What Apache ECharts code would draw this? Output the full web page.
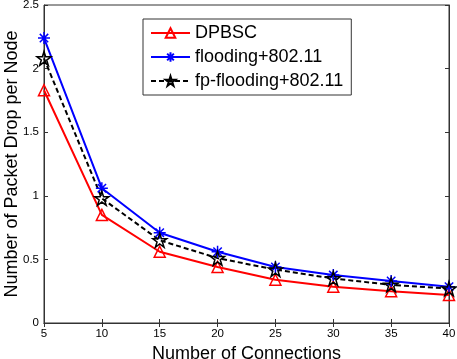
<!DOCTYPE html>
<html><head><meta charset="utf-8">
<script src="https://cdn.jsdelivr.net/npm/echarts@6/dist/echarts.min.js"></script>
<style>html,body{margin:0;padding:0;background:#fff}#c{width:457px;height:359px}</style>
</head><body><div id="c"></div>
<script>
const connections = [5, 10, 15, 20, 25, 30, 35, 40];
const dpbsc = [1.83, 0.85, 0.56, 0.44, 0.34, 0.285, 0.25, 0.22];
const flooding = [2.24, 1.06, 0.71, 0.56, 0.44, 0.377, 0.33, 0.285];
const fpFlooding = [2.08, 0.98, 0.65, 0.51, 0.42, 0.35, 0.30, 0.27];
const seriesNames = ['DPBSC', 'flooding+802.11', 'fp-flooding+802.11'];

const pair = ys => connections.map((x, i) => [x, ys[i]]);
const asterisk = 'path://M0,-10L0,10M-10,0L10,0M-7,-7L7,7M-7,7L7,-7';
const star = 'path://M0,-10L2.25,-3.09L9.51,-3.09L3.63,1.18L5.88,8.09L0,3.82L-5.88,8.09L-3.63,1.18L-9.51,-3.09L-2.25,-3.09Z';
const font = 'Liberation Sans, Arial, sans-serif';
const axisCol = '#333';

const chart = echarts.init(document.getElementById('c'), null, {renderer: 'canvas'});
chart.setOption({
  animation: false,
  backgroundColor: '#fff',
  grid: {left: 44, right: 8, top: 5, bottom: 36, show: true, borderColor: axisCol, borderWidth: 1,
         containLabel: false, outerBoundsMode: 'none'},
  legend: {
    left: 143, top: 19, orient: 'vertical',
    itemWidth: 39, itemHeight: 12, itemGap: 6,
    padding: [5, 8, 5, 7],
    borderColor: axisCol, borderWidth: 1, backgroundColor: '#fff',
    textStyle: {fontFamily: font, fontSize: 18, lineHeight: 18, color: '#000'},
    data: seriesNames
  },
  xAxis: [{
    type: 'value', min: 5, max: 40, interval: 5,
    name: 'Number of Connections', nameLocation: 'middle', nameGap: 20,
    nameTextStyle: {fontFamily: font, fontSize: 18, color: '#000'},
    axisLine: {lineStyle: {color: axisCol}},
    axisTick: {inside: true, length: 4, lineStyle: {color: axisCol}},
    axisLabel: {fontFamily: font, fontSize: 11.5, color: '#000', margin: 5},
    splitLine: {show: false}
  }, {
    type: 'value', min: 5, max: 40, interval: 5, position: 'top',
    axisLine: {lineStyle: {color: axisCol}},
    axisTick: {inside: true, length: 4, lineStyle: {color: axisCol}},
    axisLabel: {show: false}, splitLine: {show: false}
  }],
  yAxis: [{
    type: 'value', min: 0, max: 2.5, interval: 0.5,
    name: 'Number of Packet Drop per Node', nameLocation: 'middle', nameGap: 23,
    nameMoveOverlap: false,
    nameTextStyle: {fontFamily: font, fontSize: 18, color: '#000'},
    axisLine: {show: true, lineStyle: {color: axisCol}},
    axisTick: {show: true, inside: true, length: 4, lineStyle: {color: axisCol}},
    axisLabel: {fontFamily: font, fontSize: 11.5, color: '#000', margin: 5},
    splitLine: {show: false}
  }, {
    type: 'value', min: 0, max: 2.5, interval: 0.5, position: 'right',
    axisLine: {show: true, lineStyle: {color: axisCol}},
    axisTick: {show: true, inside: true, length: 4, lineStyle: {color: axisCol}},
    axisLabel: {show: false}, splitLine: {show: false}
  }],
  series: [{
    name: seriesNames[0], type: 'line', data: pair(dpbsc),
    symbol: 'triangle', symbolSize: 11,
    lineStyle: {color: '#ff0000', width: 2},
    itemStyle: {color: 'rgba(255,255,255,0)', borderColor: '#ff0000', borderWidth: 1.5}
  }, {
    name: seriesNames[1], type: 'line', data: pair(flooding),
    symbol: asterisk, symbolSize: 12,
    lineStyle: {color: '#0000ff', width: 2},
    itemStyle: {color: '#0000ff', borderColor: '#0000ff', borderWidth: 1.5}
  }, {
    name: seriesNames[2], type: 'line', data: pair(fpFlooding),
    symbol: star, symbolSize: 14,
    lineStyle: {color: '#000', width: 2, type: [5, 3]},
    itemStyle: {color: 'rgba(255,255,255,0)', borderColor: '#000', borderWidth: 1.5}
  }]
});
</script></body></html>
